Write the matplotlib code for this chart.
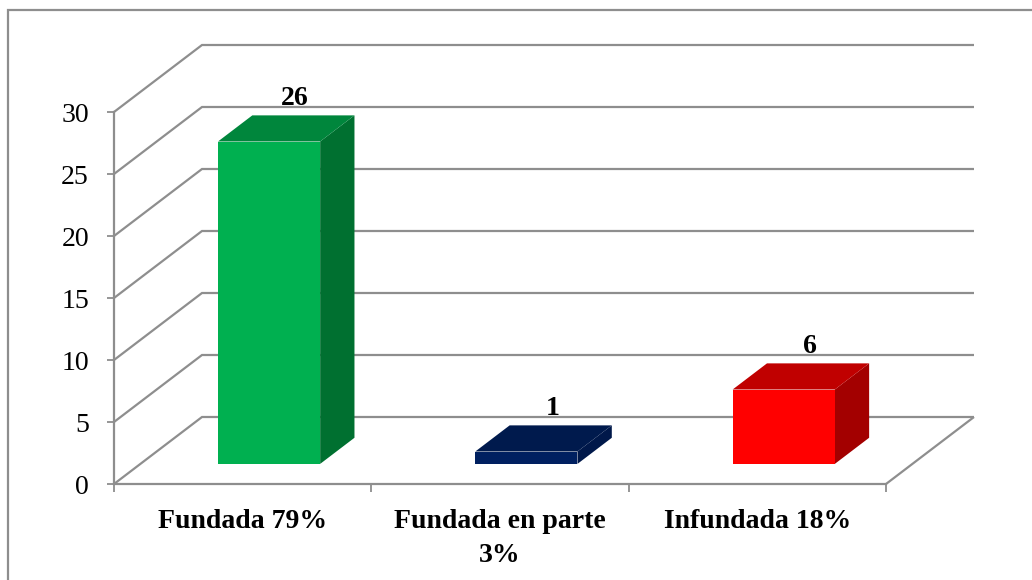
import matplotlib
matplotlib.use('Agg')
import matplotlib.pyplot as plt
from matplotlib.patches import Polygon, Rectangle

categories = ['Fundada 79%', 'Fundada en parte\n3%', 'Infundada 18%']
values = [26, 1, 6]
yticks = [0, 5, 10, 15, 20, 25, 30]

front_colors = ['#00b050', '#002060', '#ff0000']
top_colors = ['#00863c', '#001a4d', '#c00000']
side_colors = ['#007030', '#00184a', '#a30000']

grid_color = '#8e8e8e'
W, H = 1032, 580

plt.rcParams['font.family'] = ['Liberation Serif', 'DejaVu Serif']

fig = plt.figure(figsize=(W / 100, H / 100), dpi=100)
fig.patch.set_facecolor('white')
# front plane of the 3d box, in pixels
ax = fig.add_axes([114 / W, 1 - 484 / H, 772 / W, 372 / H])
ax.set_xlim(0, 3)
ax.set_ylim(0, 30)
ax.patch.set_alpha(0)

# depth of the box in data units
depth_x = 88 / (772 / 3)
depth_y = 67 / (372 / 30)


def proj(x, y, d):
    return x + depth_x * d, y + depth_y * d


for v in yticks:
    x0, y0 = proj(0, v, 0)
    x1, y1 = proj(0, v, 1)
    x2, y2 = proj(3, v, 1)
    ax.plot([x0, x1, x2], [y0, y1, y2], color=grid_color, lw=1.6, clip_on=False,
            solid_joinstyle='miter', solid_capstyle='butt', zorder=1)
# floor right edge
x0, y0 = proj(3, 0, 0)
x1, y1 = proj(3, 0, 1)
ax.plot([x0, x1], [y0, y1], color=grid_color, lw=1.6, clip_on=False,
        solid_capstyle='butt', zorder=1)

bar_w = 0.397
d0, d1 = 0.30, 0.69
for i, v in enumerate(values):
    l = i + 0.5 - bar_w / 2
    r = i + 0.5 + bar_w / 2
    front = [proj(l, 0, d0), proj(r, 0, d0), proj(r, v, d0), proj(l, v, d0)]
    top = [proj(l, v, d0), proj(r, v, d0), proj(r, v, d1), proj(l, v, d1)]
    side = [proj(r, 0, d0), proj(r, 0, d1), proj(r, v, d1), proj(r, v, d0)]
    ax.add_patch(Polygon(side, fc=side_colors[i], ec='none', clip_on=False, zorder=3))
    ax.add_patch(Polygon(top, fc=top_colors[i], ec='none', clip_on=False, zorder=3))
    ax.add_patch(Polygon(front, fc=front_colors[i], ec='none', clip_on=False, zorder=4))
    lx, ly = proj(i + 0.5, v, d1)
    ax.annotate(str(v), (lx, ly), xytext=(-6, 3), textcoords='offset points', ha='center',
                va='bottom', fontsize=20, fontweight='bold', color='black',
                annotation_clip=False, zorder=5)

for s in ['top', 'right']:
    ax.spines[s].set_visible(False)
for s in ['left', 'bottom']:
    ax.spines[s].set_color(grid_color)
    ax.spines[s].set_linewidth(1.6)
    ax.spines[s].set_zorder(2)

ax.set_yticks(yticks)
ax.set_yticklabels([str(v) for v in yticks], fontsize=20)
ax.tick_params(axis='y', length=5, width=1.3, color=grid_color, pad=13)
ax.set_xticks([0, 1, 2, 3])
ax.set_xticklabels([])
ax.tick_params(axis='x', which='major', length=6, width=1.3, color=grid_color)
ax.set_xticks([0.5, 1.5, 2.5], minor=True)
ax.set_xticklabels(categories, minor=True, fontsize=20, fontweight='bold', linespacing=1.45)
ax.tick_params(axis='x', which='minor', length=0, pad=18)

# outer chart border, runs off the right and bottom of the picture
fig.add_artist(Rectangle((8 / W, -0.02), 1.02, 1 - 10 / H + 0.02, transform=fig.transFigure,
                         fc='none', ec='#8e8e8e', lw=1.6))

fig.savefig('out.png', dpi=100)
